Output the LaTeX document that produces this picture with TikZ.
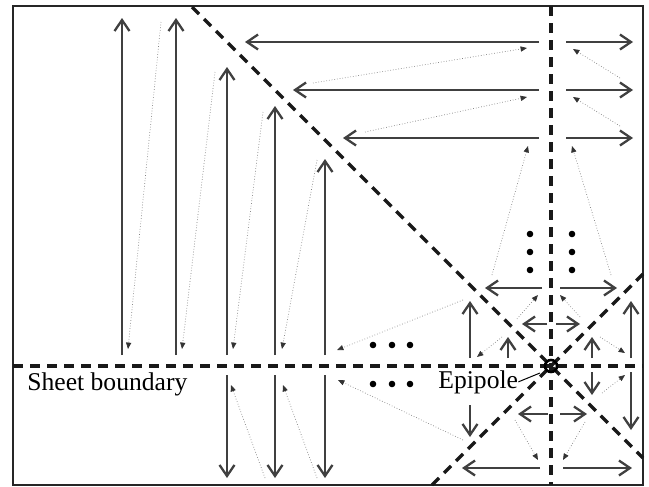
\documentclass[tikz,border=0pt]{standalone}
\usepackage{fontspec}
\setmainfont{Liberation Serif}
\usetikzlibrary{arrows.meta}

\begin{document}
\begin{tikzpicture}[
  x=0.5pt, y=-0.5pt,
  every node/.style={font=\fontsize{12.8}{15}\selectfont, inner sep=0pt},
  frame/.style={line width=1.4pt, black!85},
  bnd/.style={line width=1.6pt, dash pattern=on 5pt off 3.5pt, black!90},
  arr/.style={line width=0.75pt, black!75,
              -{Straight Barb[length=5.5pt, width=7.5pt, line width=1.15pt]}},
  hint/.style={densely dotted, line width=0.35pt, gray,
               -{Triangle[length=3.2pt, width=2.6pt, color=black!80, fill=black!80]}},
  dotmark/.style={fill=black},
]
\useasboundingbox (0,0) rectangle (649,487);

% Sheet frame and epipole
\draw[frame] (13,6) rectangle (643,485);
\coordinate (E) at (551,366);

% Boundaries through the epipole
\draw[bnd] (13,366) -- (643,366);
\draw[bnd] (551,6) -- (551,485);
\draw[bnd] (192,7) -- (E) -- (643,458);
\draw[bnd] (432,485) -- (E) -- (643,274);
\draw[line width=1.3pt] (E) circle (6);

% Upper-left: vertical sweeps upwards
\draw[arr] (122,355) -- (122,18);
\draw[arr] (176,355) -- (176,18);
\draw[arr] (227,355) -- (227,67);
\draw[arr] (275,355) -- (275,106);
\draw[arr] (325,355) -- (325,159);
\draw[hint] (161,22) -- (128,349);
\draw[hint] (215,72) -- (182,349);
\draw[hint] (263,112) -- (233,349);
\draw[hint] (317,160) -- (282,349);
\draw[hint] (463,300) -- (337,350);

% Lower-left: vertical sweeps downwards
\draw[arr] (227,375) -- (227,478);
\draw[arr] (275,375) -- (275,478);
\draw[arr] (325,375) -- (325,478);
\draw[hint] (265,478) -- (231,385);
\draw[hint] (317,478) -- (283,385);
\draw[hint] (463,440) -- (338,380);

% Upper: horizontal sweeps
\draw[arr] (539,42) -- (245,42);
\draw[arr] (539,90) -- (293,90);
\draw[arr] (539,138) -- (343,138);
\draw[arr] (566,42) -- (633,42);
\draw[arr] (566,90) -- (633,90);
\draw[arr] (566,138) -- (633,138);
\draw[hint] (313,83) -- (527,48);
\draw[hint] (365,132) -- (527,97);
\draw[hint] (492,275) -- (528,146);
\draw[hint] (620,78) -- (573,49);
\draw[hint] (620,126) -- (573,97);
\draw[hint] (611,275) -- (572,146);

% Ellipsis dots
\fill[dotmark] (530,234) circle (3.3) (530,252) circle (3.3) (530,270) circle (3.3);
\fill[dotmark] (572,234) circle (3.3) (572,252) circle (3.3) (572,270) circle (3.3);
\fill[dotmark] (373,345) circle (3.3) (392,345) circle (3.3) (410,345) circle (3.3);
\fill[dotmark] (373,384) circle (3.3) (392,384) circle (3.3) (410,384) circle (3.3);

% Around the epipole
\draw[arr] (542,288) -- (485,288);
\draw[arr] (560,288) -- (617,288);
\draw[arr] (547,324) -- (522,324);
\draw[arr] (556,324) -- (580,324);
\draw[arr] (470,358) -- (470,301);
\draw[arr] (508,358) -- (508,337);
\draw[arr] (592,358) -- (592,337);
\draw[arr] (631,358) -- (631,301);
\draw[arr] (470,405) -- (470,437);
\draw[arr] (592,372) -- (592,395);
\draw[arr] (631,372) -- (631,430);
\draw[arr] (548,414) -- (518,414);
\draw[arr] (560,414) -- (587,414);
\draw[arr] (540,468) -- (462,468);
\draw[arr] (563,468) -- (632,468);
\draw[hint] (517,319) -- (538,295);
\draw[hint] (580,317) -- (560,295);
\draw[hint] (502,337) -- (477,357);
\draw[hint] (600,337) -- (625,353);
\draw[hint] (602,393) -- (625,375);
\draw[hint] (515,420) -- (538,460);
\draw[hint] (585,422) -- (563,460);

% Labels
\node[anchor=base west] (sheet) at (27,390) {Sheet boundary};
\node[anchor=base west] (epi) at (438,388) {Epipole};
\coordinate (epitip) at (540,373);
\draw[line width=0.5pt] (epi.east) -- (epitip);

\end{tikzpicture}
\end{document}
